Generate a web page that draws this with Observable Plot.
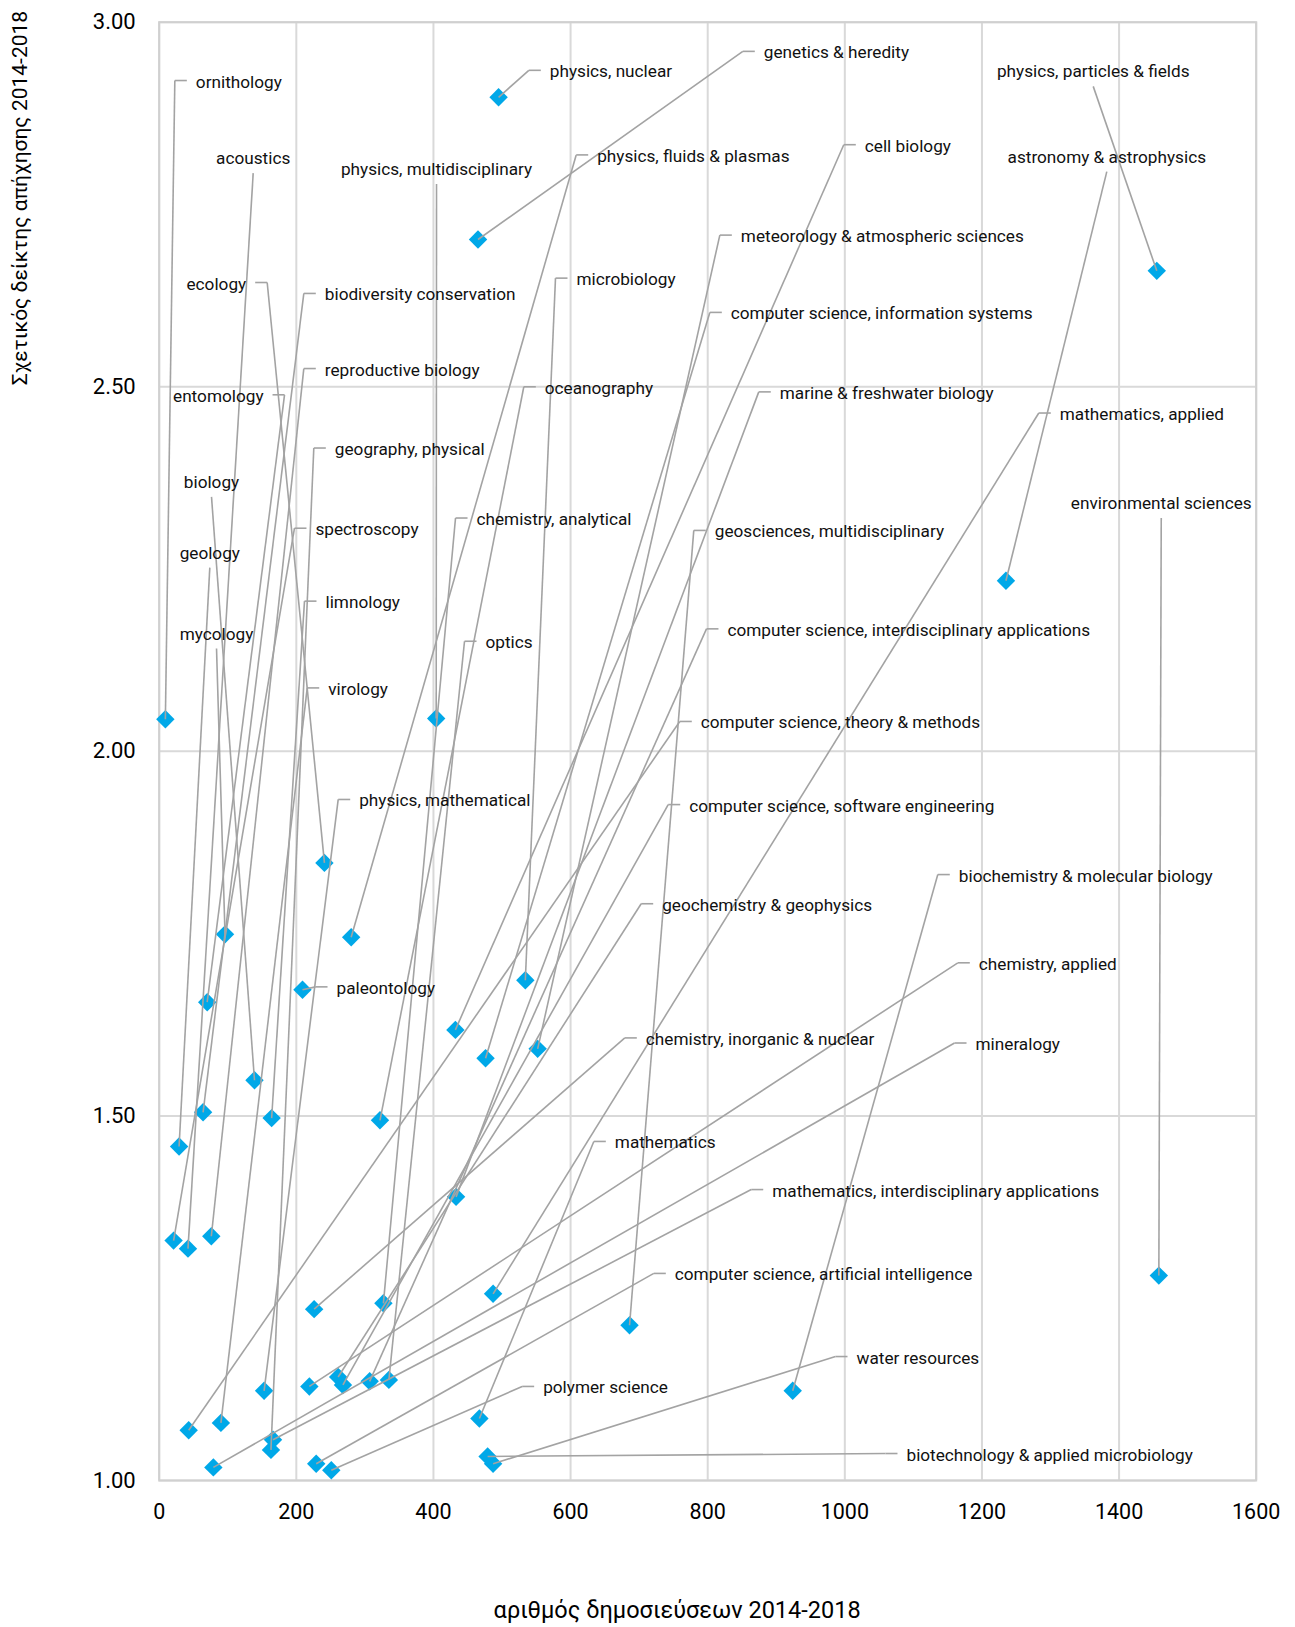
<!DOCTYPE html>
<html><head><meta charset="utf-8">
<script src="https://cdn.jsdelivr.net/npm/d3@7"></script>
<script src="https://cdn.jsdelivr.net/npm/@observablehq/plot@0.6"></script>
<style>body{margin:0;background:#fff;}</style>
</head><body><div id="chart"></div>
<script>
const fields = ["ornithology","acoustics","ecology","entomology","biology","geology","mycology","physics, multidisciplinary",
"biodiversity conservation","reproductive biology","geography, physical","spectroscopy","limnology","virology","physics, mathematical","paleontology",
"physics, nuclear","genetics & heredity","physics, fluids & plasmas","microbiology","oceanography","chemistry, analytical","optics",
"cell biology","meteorology & atmospheric sciences","computer science, information systems","marine & freshwater biology","geosciences, multidisciplinary","computer science, interdisciplinary applications","computer science, theory & methods","computer science, software engineering","geochemistry & geophysics","chemistry, inorganic & nuclear","mathematics","mathematics, interdisciplinary applications","computer science, artificial intelligence","polymer science","water resources","biotechnology & applied microbiology",
"physics, particles & fields","astronomy & astrophysics","mathematics, applied","environmental sciences","biochemistry & molecular biology","chemistry, applied","mineralogy"];
const pubs = [9,42,241,70,139,29,96,404, 64,76,163,21,164,90,153,209, 495,465,280,534,322,327,335, 432,552,476,433,686,307,43,268,261,226,467,166,229,251,487,479, 1455,1235,487,1458,924,219,79];
const index = [2.044,1.318,1.847,1.656,1.549,1.458,1.749,2.045, 1.505,1.335,1.042,1.329,1.497,1.079,1.123,1.673, 2.897,2.702,1.745,1.686,1.494,1.243,1.138, 1.618,1.592,1.579,1.389,1.213,1.136,1.069,1.131,1.142,1.235,1.085,1.056,1.023,1.014,1.023,1.033, 2.659,2.234,1.256,1.281,1.123,1.129,1.018];
const labelSide = ["start","middle","end","end","middle","middle","middle","middle",
"start","start","start","start","start","start","start","start",
"start","start","start","start","start","start","start",
"start","start","start","start","start","start","start","start","start","start","start","start","start","start","start","start",
"middle","middle","start","middle","start","start","start"];
const labelX = [22.8,137.1,157.5,182.8,76.3,73.8,83.6,404.5, 210.9,210.9,225.5,197.3,211.9,215.9,261.1,228, 539.1,851.2,608.2,578,531.8,432.2,445.3, 998.5,817.7,803.1,874.5,779.7,798.2,759.3,742.4,703,679.1,633.9,863.5,721.4,529.4,986.4,1059.3, 1362.3,1382.1,1282.9,1461.5,1135.6,1164.8,1160];
const labelY = [2.920,2.793,2.643,2.489,2.349,2.252,2.141,2.778, 2.628,2.525,2.416,2.306,2.206,2.087,1.934,1.677, 2.934,2.960,2.818,2.649,2.500,2.320,2.151, 2.832,2.708,2.602,2.493,2.303,2.168,2.041,1.927,1.791,1.607,1.465,1.399,1.284,1.129,1.170,1.037, 2.912,2.795,2.464,2.320,1.831,1.710,1.600];
const xTicks = [0,200,400,600,800,1000,1200,1400,1600];
const yTicks = [1.0,1.5,2.0,2.5,3.0];
const xTitle = "αριθμός δημοσιεύσεων 2014-2018";
const yTitle = "Σχετικός δείκτης απήχησης 2014-2018";

const W = 1295, H = 1627, ML = 158.7, MR = 39.3, MT = 21.7, MB = 147;
const data = fields.map((f, i) => ({field: f, x: pubs[i], y: index[i], side: labelSide[i], lx: labelX[i], ly: labelY[i]}));
const unitPerPx = 1600 / (W - ML - MR);
const TICK = 12 * unitPerPx;
const elbows = data.filter(d => d.side !== "middle").map(d => ({x1: d.lx, x2: d.side === "start" ? d.lx + TICK : d.lx - TICK, y: d.ly}));
const lineCol = "#a3a3a3", gridCol = "#d9d9d9", textCol = "#111";
const FS = 17.2;

const chart = Plot.plot({
  width: W, height: H, marginLeft: ML, marginRight: MR, marginTop: MT, marginBottom: MB,
  style: {fontFamily: "Roboto, 'DejaVu Sans', sans-serif", background: "#fff", color: "#000"},
  x: {domain: [0, 1600]},
  y: {domain: [1, 3]},
  marks: [
    Plot.gridX(xTicks, {stroke: gridCol, strokeWidth: 2, strokeOpacity: 1}),
    Plot.gridY(yTicks, {stroke: gridCol, strokeWidth: 2, strokeOpacity: 1}),
    Plot.frame({stroke: "#d0d0d0", strokeWidth: 2}),
    Plot.axisX({ticks: xTicks, tickSize: 0, tickPadding: 23, fontSize: 21.5, tickFormat: d => String(d), label: null}),
    Plot.axisY({ticks: yTicks, tickSize: 0, tickPadding: 23.5, fontSize: 22, tickFormat: d => d.toFixed(2), label: null}),
    Plot.dot(data, {x: "x", y: "y", symbol: "diamond2", r: 8.3, fill: "#00a8e8", stroke: "none"}),
    Plot.link(data, {x1: "x", y1: "y", x2: "lx", y2: "ly", stroke: lineCol, strokeWidth: 1.6}),
    Plot.link(elbows, {x1: "x1", x2: "x2", y1: "y", y2: "y", stroke: lineCol, strokeWidth: 1.6}),
    Plot.text(data.filter(d => d.side === "start"), {x: "lx", y: "ly", text: "field", textAnchor: "start", dx: 21, dy: 1.5, fontSize: FS, fill: textCol}),
    Plot.text(data.filter(d => d.side === "end"), {x: "lx", y: "ly", text: "field", textAnchor: "end", dx: -21, dy: 1.5, fontSize: FS, fill: textCol}),
    Plot.text(data.filter(d => d.side === "middle"), {x: "lx", y: "ly", text: "field", textAnchor: "middle", dy: -14.5, fontSize: FS, fill: textCol}),
    Plot.text([xTitle], {frameAnchor: "bottom", text: d => d, dx: -30.6, dy: 137, fontSize: 23.5, fill: "#000"}),
    Plot.text([yTitle], {frameAnchor: "top-left", text: d => d, rotate: -90, textAnchor: "end", dx: -147, dy: -11.3, fontSize: 21, fill: "#000"})
  ]
});
document.getElementById("chart").appendChild(chart);
</script>
</body></html>
